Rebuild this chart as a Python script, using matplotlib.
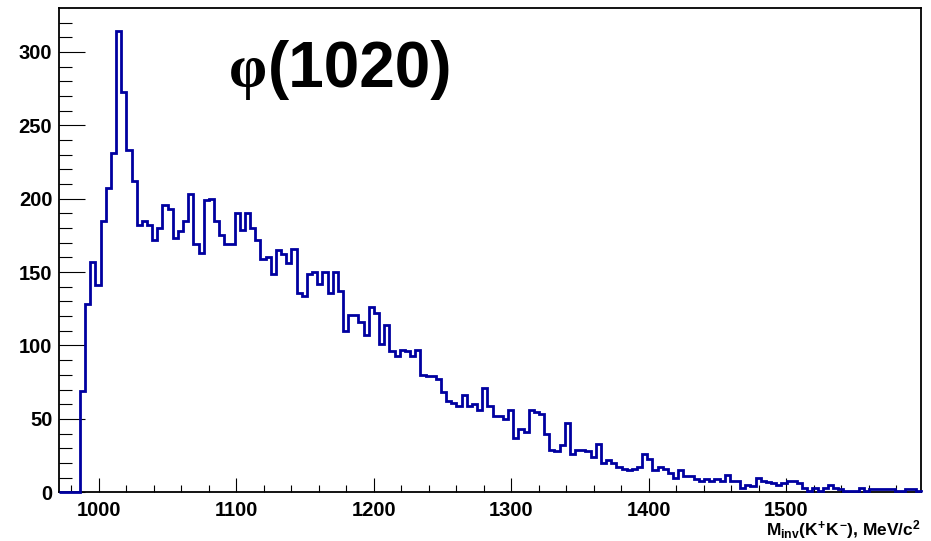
import numpy as np
import matplotlib
matplotlib.use("Agg")
import matplotlib.pyplot as plt
from matplotlib.ticker import MultipleLocator

# ---- data ----
bin_lo = 971.5      # MeV, lower edge of histogram
bin_width = 3.75    # MeV
counts = [0, 0, 0, 0,
          69, 128, 157, 141, 185, 207, 231, 314, 273, 233,
          212, 182, 185, 182, 172, 180, 196, 193, 173, 178,
          185, 203, 169, 163, 199, 200, 185, 175, 169, 169,
          190, 179, 190, 180, 172, 159, 160, 149, 165, 162,
          156, 166, 136, 134, 149, 150, 142, 150, 136, 150,
          137, 110, 121, 121, 116, 107, 126, 122, 101, 114,
          96, 93, 97, 96, 93, 97, 80, 79, 79, 77,
          68, 62, 61, 59, 66, 59, 60, 56, 71, 59,
          52, 52, 50, 56, 37, 43, 41, 56, 55, 53,
          40, 29, 28, 32, 47, 26, 29, 29, 28, 24,
          33, 20, 22, 20, 17, 16, 15, 16, 17, 26,
          23, 15, 17, 16, 13, 10, 15, 11, 11, 9,
          8, 9, 8, 9, 8, 12, 8, 8, 3, 5,
          4, 10, 8, 7, 6, 5, 6, 8, 8, 6,
          3, 1, 3, 1, 3, 5, 3, 2, 1, 1,
          1, 3, 1, 2, 2, 2, 2, 2, 1, 1,
          2, 2, 1]
x_major = [1000, 1100, 1200, 1300, 1400, 1500]
y_major = [0, 50, 100, 150, 200, 250, 300]
title = "(1020)"
phi = "φ"
xlabel = r"$M_{inv}(K^{+}K^{-})$, MeV/c$^{2}$"

counts = np.array(counts, dtype=float)
edges = bin_lo + bin_width * np.arange(len(counts) + 1)

plt.rcParams['mathtext.fontset'] = 'custom'
plt.rcParams['mathtext.rm'] = 'Liberation Sans:bold'
plt.rcParams['mathtext.it'] = 'Liberation Sans:bold'
plt.rcParams['mathtext.bf'] = 'Liberation Sans:bold'
plt.rcParams['font.family'] = ['Liberation Sans', 'DejaVu Sans']

W, H = 931, 541
fig = plt.figure(figsize=(W / 100, H / 100), dpi=100)
L, R, T, B = 59.3, 920.7, 8.3, 492.3
ax = fig.add_axes([L / W, 1 - B / H, (R - L) / W, (B - T) / H])

ax.stairs(counts, edges, color='#0000a0', linewidth=2.0, baseline=0,
          zorder=3, clip_on=False)

ax.set_xlim(edges[0], edges[-1])
ax.set_ylim(0, counts.max() * 1.05)

ax.set_xticks(x_major)
ax.set_yticks(y_major)
ax.xaxis.set_minor_locator(MultipleLocator(20))
ax.yaxis.set_minor_locator(MultipleLocator(10))
ax.tick_params(axis='y', which='major', direction='in', length=18.5, width=0.8, pad=5)
ax.tick_params(axis='y', which='minor', direction='in', length=9.3, width=0.8)
ax.tick_params(axis='x', which='major', direction='in', length=10, width=0.8, pad=6)
ax.tick_params(axis='x', which='minor', direction='in', length=5, width=0.8)
ax.tick_params(top=False, right=False)
for lab in ax.get_xticklabels() + ax.get_yticklabels():
    lab.set_fontsize(14.5)
    lab.set_fontweight('bold')
for s in ax.spines.values():
    s.set_linewidth(1.3)
    s.set_zorder(2.5)

# title phi(1020)
base_y = 1 - 87 / H
t_phi = fig.text(229 / W, base_y, phi, fontsize=44, fontweight='bold',
                 family=['Liberation Serif', 'DejaVu Serif'], ha='left', va='baseline')
renderer = fig.canvas.get_renderer()
bb = t_phi.get_window_extent(renderer)
fig.text((bb.x1 + 1) / W, base_y, title, fontsize=46, fontweight='bold',
         ha='left', va='baseline')

fig.text(R / W, 1 - 535.5 / H, xlabel, fontsize=12.5, fontweight='bold',
         ha='right', va='baseline')

fig.savefig('out.png', dpi=100)
